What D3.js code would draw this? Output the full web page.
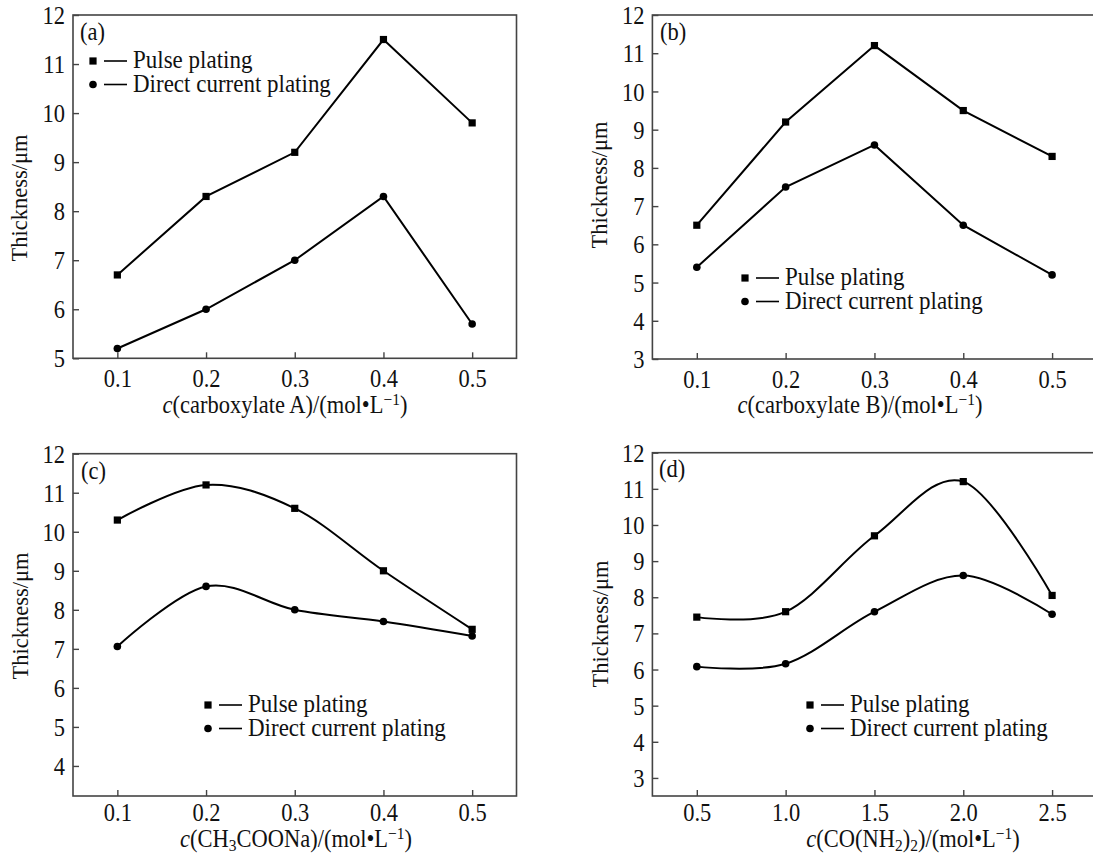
<!DOCTYPE html>
<html>
<head>
<meta charset="utf-8">
<script src="https://cdn.jsdelivr.net/npm/d3@7/dist/d3.min.js"></script>
<style>
  html, body { margin: 0; padding: 0; background: #fff; }
  svg { display: block; }
</style>
</head>
<body>
<svg id="chart" width="1093" height="864"></svg>
<script>
// ---- data ----
const concA = [0.1, 0.2, 0.3, 0.4, 0.5];            // carboxylate A, mol/L
const pulseA = [6.7, 8.3, 9.2, 11.5, 9.8];
const dcA = [5.2, 6.0, 7.0, 8.3, 5.7];

const concB = [0.1, 0.2, 0.3, 0.4, 0.5];            // carboxylate B, mol/L
const pulseB = [6.5, 9.2, 11.2, 9.5, 8.3];
const dcB = [5.4, 7.5, 8.6, 6.5, 5.2];

const concC = [0.1, 0.2, 0.3, 0.4, 0.5];            // CH3COONa, mol/L
const pulseC = [10.3, 11.2, 10.6, 9.0, 7.5];
const dcC = [7.06, 8.6, 8.0, 7.7, 7.33];

const concD = [0.5, 1.0, 1.5, 2.0, 2.5];            // CO(NH2)2, mol/L
const pulseD = [7.45, 7.6, 9.7, 11.2, 8.05];
const dcD = [6.08, 6.16, 7.6, 8.6, 7.53];

const yTicksA = [5, 6, 7, 8, 9, 10, 11, 12];
const yTicksB = [3, 4, 5, 6, 7, 8, 9, 10, 11, 12];
const yTicksC = [4, 5, 6, 7, 8, 9, 10, 11, 12];
const yTicksD = [3, 4, 5, 6, 7, 8, 9, 10, 11, 12];

const seriesNames = ["Pulse plating", "Direct current plating"];
const yTitle = "Thickness/\u03bcm";

// ---- drawing ----
const FONT = "'Liberation Serif','Times New Roman',serif";
const FS = 22.5;          // base font size
const TALL = 1.12;        // vertical stretch of horizontal text
const svg = d3.select("#chart");

// stretch a text element vertically about its own anchor point
function stretch(sel) {
  sel.each(function () {
    const t = d3.select(this);
    const x = +t.attr("x") || 0, y = +t.attr("y") || 0;
    t.attr("transform", `translate(${x},${y}) scale(1,${TALL}) translate(${-x},${-y})`);
  });
}

const panels = [
  { tag: "(a)", x: concA, s: [pulseA, dcA], yTicks: yTicksA, smooth: false, pad: 12,
    box: [73, 516.5, 15, 358.3], xDom: [0.05, 0.55], yDom: [5, 12],
    xt: ["carboxylate A"], tagPos: [80, 40], legend: [93, 61], yt: [20, 198], xtPos: [285, 413] },
  { tag: "(b)", x: concB, s: [pulseB, dcB], yTicks: yTicksB, smooth: false, pad: 12,
    box: [652.4, 1096.5, 15, 359], xDom: [0.05, 0.55], yDom: [3, 12],
    xt: ["carboxylate B"], tagPos: [660, 40], legend: [745, 278], yt: [600, 185], xtPos: [860, 413] },
  { tag: "(c)", x: concC, s: [pulseC, dcC], yTicks: yTicksC, smooth: true, pad: 8,
    box: [73, 516.5, 453.7, 796], xDom: [0.05, 0.55], yDom: [3.23, 12],
    xt: "CH3COONa", tagPos: [81, 479], legend: [208, 705], yt: [21, 616], xtPos: [296, 847] },
  { tag: "(d)", x: concD, s: [pulseD, dcD], yTicks: yTicksD, smooth: true, pad: 8,
    box: [652.4, 1096.5, 452.7, 796], xDom: [0.25, 2.75], yDom: [2.5, 12],
    xt: "urea", tagPos: [659, 477], legend: [810, 705], yt: [601, 624], xtPos: [913, 847] }
];

function symbol(g, kind, cx, cy) {
  if (kind === 0) {
    g.append("rect").attr("x", cx - 3.6).attr("y", cy - 3.6)
      .attr("width", 7.2).attr("height", 7.2).attr("fill", "#000");
  } else {
    g.append("circle").attr("cx", cx).attr("cy", cy).attr("r", 3.8).attr("fill", "#000");
  }
}

function xTitle(g, p) {
  const t = g.append("text")
    .attr("x", p.xtPos[0]).attr("y", p.xtPos[1])
    .attr("text-anchor", "middle")
    .attr("font-family", FONT).attr("font-size", FS).attr("fill", "#111");
  const sub = 15.5;
  t.append("tspan").attr("font-style", "italic").text("c");
  if (p.xt === "CH3COONa") {
    t.append("tspan").text("(CH");
    t.append("tspan").attr("font-size", sub).attr("dy", 4).text("3");
    t.append("tspan").attr("dy", -4).text("COONa)/(mol\u2022L");
  } else if (p.xt === "urea") {
    t.append("tspan").text("(CO(NH");
    t.append("tspan").attr("font-size", sub).attr("dy", 4).text("2");
    t.append("tspan").attr("dy", -4).text(")");
    t.append("tspan").attr("font-size", sub).attr("dy", 4).text("2");
    t.append("tspan").attr("dy", -4).text(")/(mol\u2022L");
  } else {
    t.append("tspan").text("(" + p.xt[0] + ")/(mol\u2022L");
  }
  t.append("tspan").attr("font-size", sub).attr("dy", -7).text("\u22121");
  t.append("tspan").attr("dy", 7).text(")");
  stretch(t);
}

panels.forEach(p => {
  const [x0, x1, y0, y1] = p.box;
  const xs = d3.scaleLinear().domain(p.xDom).range([x0, x1]);
  const ys = d3.scaleLinear().domain(p.yDom).range([y1, y0]);
  const g = svg.append("g");

  // frame
  g.append("rect").attr("x", x0).attr("y", y0)
    .attr("width", x1 - x0).attr("height", y1 - y0)
    .attr("fill", "none").attr("stroke", "#444").attr("stroke-width", 1.6);

  // axes with inward ticks
  const xAxis = d3.axisBottom(xs).tickValues(p.x).tickFormat(d3.format(".1f"))
    .tickSizeInner(-6).tickSizeOuter(0).tickPadding(p.pad);
  const gx = g.append("g").attr("transform", `translate(0,${y1})`).call(xAxis);
  const yAxis = d3.axisLeft(ys).tickValues(p.yTicks).tickFormat(d3.format("d"))
    .tickSizeInner(-6).tickSizeOuter(0).tickPadding(8);
  const gy = g.append("g").attr("transform", `translate(${x0},0)`).call(yAxis);
  [gx, gy].forEach(a => {
    a.select(".domain").remove();
    a.selectAll(".tick line").attr("stroke", "#444").attr("stroke-width", 1.4);
    a.selectAll(".tick text").attr("font-family", FONT).attr("font-size", FS).attr("fill", "#111");
  });
  gy.selectAll(".tick text").attr("dy", "0.34em");
  gx.selectAll(".tick text").attr("dy", "0.66em");
  stretch(gx.selectAll(".tick text"));
  stretch(gy.selectAll(".tick text"));

  // series
  const line = d3.line()
    .x((d, i) => xs(p.x[i])).y(d => ys(d))
    .curve(p.smooth ? d3.curveCardinal.tension(0) : d3.curveLinear);
  p.s.forEach((vals, k) => {
    g.append("path").datum(vals).attr("d", line)
      .attr("fill", "none").attr("stroke", "#000").attr("stroke-width", 2);
    vals.forEach((v, i) => symbol(g, k, xs(p.x[i]), ys(v)));
  });

  // panel tag
  stretch(g.append("text").attr("x", p.tagPos[0]).attr("y", p.tagPos[1])
    .attr("font-family", FONT).attr("font-size", FS).attr("fill", "#111").text(p.tag));

  // legend
  seriesNames.forEach((name, k) => {
    const lx = p.legend[0], ly = p.legend[1] + k * 23.5;
    symbol(g, k, lx, ly);
    g.append("line").attr("x1", lx + 11).attr("x2", lx + 34).attr("y1", ly).attr("y2", ly)
      .attr("stroke", "#000").attr("stroke-width", 1.6);
    stretch(g.append("text").attr("x", lx + 40).attr("y", ly + 7.5)
      .attr("font-family", FONT).attr("font-size", 23).attr("fill", "#111").text(name));
  });

  // axis titles
  g.append("text")
    .attr("transform", `translate(${p.yt[0] + 7},${p.yt[1]}) rotate(-90)`)
    .attr("text-anchor", "middle")
    .attr("font-family", FONT).attr("font-size", FS).attr("fill", "#111").text(yTitle);
  xTitle(g, p);
});
</script>
</body>
</html>
